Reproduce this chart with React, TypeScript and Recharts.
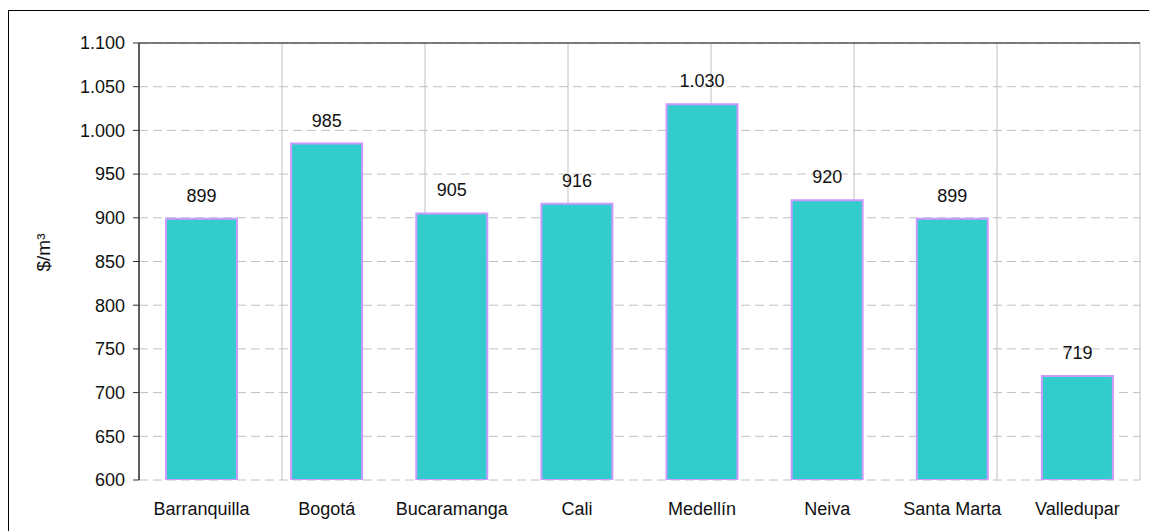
import React from "react";
import {
	Bar,
	BarChart,
	CartesianGrid,
	LabelList,
	ReferenceLine,
	XAxis,
	YAxis,
} from "recharts";

const cities = [
	"Barranquilla",
	"Bogotá",
	"Bucaramanga",
	"Cali",
	"Medellín",
	"Neiva",
	"Santa Marta",
	"Valledupar",
];
const prices = [899, 985, 905, 916, 1030, 920, 899, 719];
const yTicks = [600, 650, 700, 750, 800, 850, 900, 950, 1000, 1050, 1100];
const edgeTicks = [...cities.map((_, i) => i), cities.length];

const data = cities.map((city, i) => ({ city, price: prices[i] }));

const FONT = "'Liberation Sans', Arial, sans-serif";
const fmt = (v: number | string) =>
	String(v).replace(/\B(?=(\d{3})+(?!\d))/g, ".");

const YLabel = ({ viewBox }: any) => {
	const cx = viewBox.x + 43;
	const cy = viewBox.y + viewBox.height / 2 - 9;
	return (
		<text
			x={cx}
			y={cy}
			transform={`rotate(-90 ${cx} ${cy})`}
			textAnchor="middle"
			dominantBaseline="central"
			fill="#111"
			fontSize={19}
			fontFamily={FONT}
		>
			$/m³
		</text>
	);
};

const NoTick = () => <g />;

export default function App() {
	return (
		<div
			style={{
				position: "fixed",
				left: 0,
				top: 0,
				width: 1149,
				height: 531,
				background: "#fff",
				overflow: "hidden",
			}}
		>
			<div
				style={{
					position: "absolute",
					left: 8,
					top: 10,
					width: 1141,
					height: 521,
					borderTop: "1px solid #000",
					borderLeft: "1px solid #000",
				}}
			/>
			<div style={{ position: "absolute", left: 0, top: 0 }}>
				<BarChart
					width={1149}
					height={531}
					data={data}
					margin={{ top: 43, right: 9, bottom: 0, left: 0 }}
					barCategoryGap="21.6%"
					style={{ fontFamily: FONT }}
				>
					<CartesianGrid
						xAxisId="edges"
						horizontal={false}
						stroke="#c0c0c0"
					/>
					<CartesianGrid
						xAxisId="edges"
						vertical={false}
						stroke="#c0c0c0"
						strokeDasharray="9 5"
					/>
					<XAxis
						xAxisId="edges"
						type="number"
						domain={[0, cities.length]}
						allowDataOverflow
						ticks={edgeTicks}
						interval={0}
						tick={<NoTick />}
						tickSize={6}
						height={0}
						axisLine={{ stroke: "#333", strokeWidth: 1.5 }}
						tickLine={{ stroke: "#333" }}
					/>
					<XAxis
						xAxisId="cat"
						dataKey="city"
						axisLine={false}
						tickLine={false}
						tickSize={0}
						tickMargin={22}
						height={51}
						interval={0}
						tick={{ fill: "#111", fontSize: 18 }}
					/>
					<YAxis
						domain={[600, 1100]}
						ticks={yTicks}
						interval={0}
						allowDataOverflow
						width={139}
						tickFormatter={fmt}
						tickSize={6}
						tickMargin={8}
						axisLine={{ stroke: "#333", strokeWidth: 1.5 }}
						tickLine={{ stroke: "#333" }}
						tick={{ fill: "#111", fontSize: 18 }}
						label={<YLabel />}
					/>
					<ReferenceLine
						xAxisId="edges"
						y={1100}
						stroke="#555"
						strokeWidth={1.5}
					/>
					<ReferenceLine
						xAxisId="edges"
						x={cities.length}
						stroke="#888"
						strokeWidth={1.5}
					/>
					<Bar
						xAxisId="cat"
						dataKey="price"
						fill="#33cccc"
						stroke="#cc99ff"
						strokeWidth={2}
						isAnimationActive={false}
					>
						<LabelList
							dataKey="price"
							position="top"
							offset={17}
							formatter={fmt}
							fill="#111"
							fontSize={18}
						/>
					</Bar>
				</BarChart>
			</div>
		</div>
	);
}
